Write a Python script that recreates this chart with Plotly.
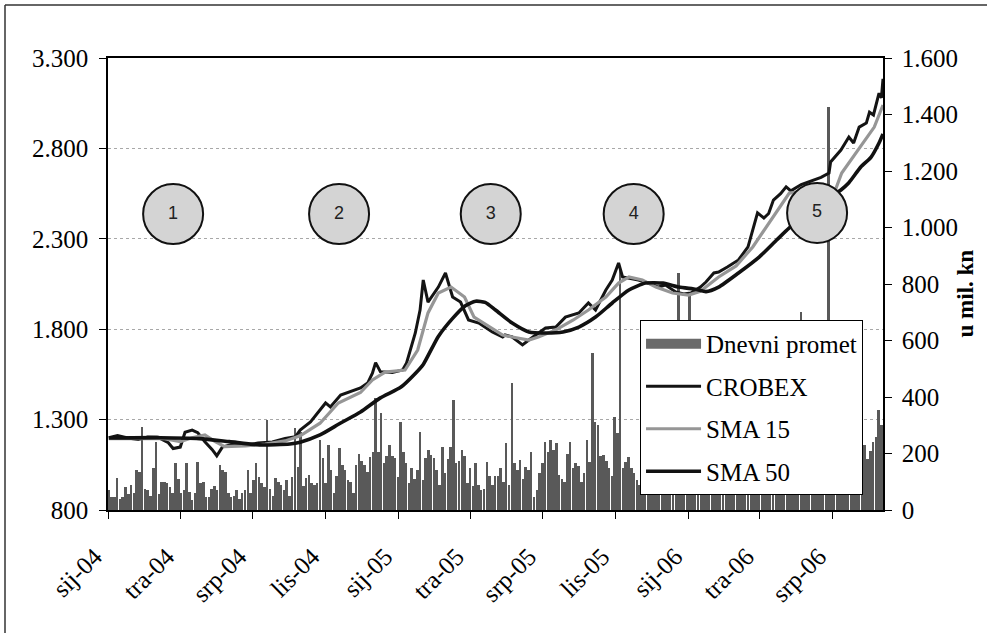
import plotly.graph_objects as go
import pandas as pd

# ---------------- data ----------------
crobex_dates = [
    "2004-01-02", "2004-01-13", "2004-01-26", "2004-02-08", "2004-02-20", "2004-03-04", "2004-03-17",
    "2004-03-23", "2004-04-01", "2004-04-07", "2004-04-16", "2004-04-23", "2004-05-02", "2004-05-11",
    "2004-05-17", "2004-05-24", "2004-06-05", "2004-06-22", "2004-07-08", "2004-07-26", "2004-08-11",
    "2004-08-24", "2004-08-30", "2004-09-12", "2004-10-01", "2004-10-07", "2004-10-20", "2004-11-01",
    "2004-11-14", "2004-11-23", "2004-11-29", "2004-12-03", "2004-12-09", "2004-12-24", "2005-01-06",
    "2005-01-11", "2005-01-22", "2005-01-28", "2005-02-01", "2005-02-07", "2005-02-20", "2005-03-01",
    "2005-03-10", "2005-03-20", "2005-03-30", "2005-04-12", "2005-04-29", "2005-05-12", "2005-05-15",
    "2005-05-24", "2005-06-06", "2005-06-14", "2005-06-26", "2005-07-05", "2005-07-18", "2005-07-30",
    "2005-08-16", "2005-08-28", "2005-09-06", "2005-09-19", "2005-09-27", "2005-10-05", "2005-10-10",
    "2005-10-18", "2005-10-30", "2005-11-12", "2005-11-24", "2005-12-03", "2005-12-16", "2005-12-26",
    "2006-01-04", "2006-01-16", "2006-01-23", "2006-02-02", "2006-02-08", "2006-02-19", "2006-03-05",
    "2006-03-17", "2006-03-23", "2006-03-29", "2006-04-06", "2006-04-12", "2006-04-18", "2006-04-27",
    "2006-05-04", "2006-05-10", "2006-05-23", "2006-06-04", "2006-06-17", "2006-06-27", "2006-06-29",
    "2006-07-12", "2006-07-22", "2006-07-28", "2006-08-04", "2006-08-13", "2006-08-17", "2006-08-22",
    "2006-08-29", "2006-09-01", "2006-09-03",
]
crobex_vals = [
    1200, 1212, 1198, 1190, 1204, 1202, 1172,
    1140, 1148, 1230, 1242, 1228, 1178, 1135,
    1100, 1148, 1162, 1160, 1170, 1176, 1195,
    1205, 1242, 1287, 1392, 1370, 1436, 1453,
    1475, 1502, 1557, 1615, 1565, 1560, 1574,
    1613, 1779, 1906, 2072, 1950, 2033, 2111,
    1978, 1950, 1851, 1834, 1785, 1757, 1768,
    1757, 1713, 1740, 1779, 1807, 1812, 1867,
    1890, 1945, 1906, 2017, 2072, 2166, 2089,
    2083, 2072, 2055, 2033, 2044, 2006, 1995,
    2000, 2033, 2061, 2111, 2116, 2144, 2183,
    2255, 2349, 2443, 2415, 2440, 2514, 2550,
    2587, 2565, 2600, 2620, 2640, 2664, 2725,
    2791, 2863, 2830, 2918, 2940, 3000, 2985,
    3106, 3080, 3185,
]

sma15_dates = [
    "2004-01-02", "2004-02-10", "2004-03-12", "2004-04-01", "2004-04-16", "2004-05-02", "2004-05-15",
    "2004-05-27", "2004-06-22", "2004-07-17", "2004-08-11", "2004-08-30", "2004-09-24", "2004-10-17",
    "2004-11-14", "2004-11-29", "2004-12-15", "2005-01-09", "2005-01-25", "2005-02-07", "2005-02-20",
    "2005-03-08", "2005-03-25", "2005-04-06", "2005-04-26", "2005-05-12", "2005-05-24", "2005-06-14",
    "2005-06-26", "2005-07-18", "2005-08-09", "2005-08-28", "2005-09-19", "2005-10-05", "2005-10-18",
    "2005-11-04", "2005-11-21", "2005-12-12", "2006-01-01", "2006-01-16", "2006-02-08", "2006-03-02",
    "2006-03-23", "2006-04-18", "2006-05-08", "2006-06-04", "2006-07-05", "2006-07-13", "2006-08-03",
    "2006-08-23", "2006-09-03",
]
sma15_vals = [
    1195, 1196, 1195, 1178, 1200, 1215, 1178,
    1150, 1155, 1165, 1182, 1210, 1280, 1392,
    1450, 1519, 1563, 1574, 1685, 1890, 2000,
    2033, 1978, 1867, 1812, 1768, 1757, 1740,
    1757, 1796, 1851, 1906, 1978, 2055, 2089,
    2072, 2033, 2000, 1989, 2010, 2089, 2150,
    2255, 2421, 2553, 2565, 2570, 2664, 2791,
    2918, 3040,
]

sma50_dates = [
    "2004-01-02", "2004-03-07", "2004-04-25", "2004-06-02", "2004-07-10", "2004-08-17", "2004-08-30",
    "2004-09-24", "2004-10-20", "2004-11-14", "2004-12-09", "2005-01-04", "2005-01-22", "2005-02-01",
    "2005-02-20", "2005-03-10", "2005-03-26", "2005-04-08", "2005-04-20", "2005-05-03", "2005-05-24",
    "2005-06-14", "2005-07-05", "2005-07-27", "2005-08-16", "2005-09-06", "2005-09-27", "2005-10-18",
    "2005-11-08", "2005-11-30", "2005-12-20", "2006-01-11", "2006-01-23", "2006-02-08", "2006-03-05",
    "2006-03-31", "2006-04-22", "2006-05-08", "2006-06-12", "2006-07-12", "2006-07-22", "2006-08-06",
    "2006-08-19", "2006-08-29", "2006-09-03",
]
sma50_vals = [
    1198, 1200, 1195, 1178, 1160, 1165, 1175,
    1215, 1281, 1342, 1420, 1480, 1555, 1605,
    1760, 1860, 1930, 1955, 1948, 1906, 1834,
    1785, 1779, 1785, 1812, 1867, 1945, 2017,
    2055, 2055, 2033, 2020, 2008, 2033, 2111,
    2199, 2293, 2360, 2480, 2570, 2610, 2697,
    2752, 2830, 2880,
]

# daily turnover (u mil. kn), one value every 3.5 days from 2 Jan 2004
volume_start = "2004-01-02"
volume_step_days = 3.5
volume_vals = [
    71, 45, 47, 112, 40, 45, 83, 55, 90, 60,
    142, 135, 295, 75, 70, 50, 148, 242, 55, 100,
    100, 95, 80, 60, 165, 110, 60, 70, 165, 65,
    35, 60, 171, 95, 100, 45, 45, 75, 85, 70,
    159, 142, 136, 60, 45, 50, 70, 40, 60, 72,
    142, 60, 106, 165, 118, 95, 80, 319, 75, 50,
    112, 100, 90, 70, 105, 50, 118, 289, 153, 277,
    85, 112, 124, 95, 90, 95, 248, 183, 95, 230,
    140, 60, 120, 218, 159, 140, 105, 100, 60, 159,
    200, 175, 159, 135, 189, 206, 395, 206, 342, 165,
    190, 230, 190, 185, 118, 313, 206, 165, 95, 150,
    110, 140, 277, 105, 183, 212, 195, 183, 140, 90,
    224, 130, 180, 224, 389, 165, 175, 212, 190, 95,
    150, 85, 165, 90, 70, 75, 171, 120, 90, 120,
    120, 147, 100, 236, 90, 448, 165, 140, 177, 110,
    153, 140, 206, 45, 70, 130, 165, 242, 206, 248,
    212, 236, 125, 110, 100, 200, 242, 150, 165, 155,
    100, 130, 248, 170, 555, 313, 301, 190, 195, 175,
    150, 120, 330, 271, 860, 150, 171, 189, 150, 130,
    105, 90, 85, 120, 95, 140, 110, 160, 90, 130,
    150, 100, 180, 120, 140, 839, 110, 160, 130, 770,
    120, 95, 150, 180, 110, 140, 200, 130, 90, 160,
    140, 110, 190, 150, 120, 170, 100, 140, 210, 160,
    130, 180, 150, 110, 200, 160, 140, 120, 180, 150,
    220, 130, 160, 190, 140, 110, 170, 230, 150, 701,
    180, 140, 200, 160, 120, 190, 240, 170, 150, 1427,
    210, 180, 150, 200, 160, 130, 190, 220, 170, 140,
    200, 160, 230, 180, 210, 240, 260, 354, 300,
]

# phase markers (numbered circles)
phase_labels = ["1", "2", "3", "4", "5"]
phase_dates = ["2004-03-23", "2004-10-18", "2005-04-27", "2005-10-24", "2006-06-12"]
phase_levels = [2437, 2437, 2437, 2437, 2443]

# axis ticks
x_tick_dates = ["2004-01-01", "2004-04-01", "2004-07-01", "2004-10-01", "2005-01-01", "2005-04-01",
                "2005-07-01", "2005-10-01", "2006-01-01", "2006-04-01", "2006-07-01"]
x_tick_labels = ["sij-04", "tra-04", "srp-04", "lis-04", "sij-05", "tra-05",
                 "srp-05", "lis-05", "sij-06", "tra-06", "srp-06"]
left_tick_vals = [800, 1300, 1800, 2300, 2800, 3300]
left_tick_labels = ["800", "1.300", "1.800", "2.300", "2.800", "3.300"]
right_tick_vals = [0, 200, 400, 600, 800, 1000, 1200, 1400, 1600]
right_tick_labels = ["0", "200", "400", "600", "800", "1.000", "1.200", "1.400", "1.600"]

# ---------------- figure ----------------
volume_dates = pd.to_datetime(volume_start) + pd.to_timedelta(
    [i * volume_step_days for i in range(len(volume_vals))], unit="D")
day_ms = 86400000

SERIF = "Liberation Serif, Times New Roman, serif"
fig = go.Figure()

fig.add_trace(go.Bar(
    x=volume_dates, y=volume_vals, name="Dnevni promet", showlegend=False,
    marker=dict(color="#595959", line=dict(width=0)),
    width=volume_step_days * day_ms * 0.9, yaxis="y",
))
# legend swatch for the turnover bars
fig.add_trace(go.Scatter(
    x=[None], y=[None], mode="lines", name="Dnevni promet",
    line=dict(color="#6a6a6a", width=16), yaxis="y2", legendgroup="g0",
))
fig.add_trace(go.Scatter(
    x=crobex_dates, y=crobex_vals, mode="lines", name="CROBEX",
    line=dict(color="#141414", width=3), yaxis="y2", legendgroup="g1",
))
fig.add_trace(go.Scatter(
    x=sma15_dates, y=sma15_vals, mode="lines", name="SMA 15",
    line=dict(color="#969696", width=3.2), yaxis="y2", legendgroup="g2",
))
fig.add_trace(go.Scatter(
    x=sma50_dates, y=sma50_vals, mode="lines", name="SMA 50",
    line=dict(color="#111111", width=3.6, shape="spline", smoothing=0.6), yaxis="y2", legendgroup="g3",
))
fig.add_trace(go.Scatter(
    x=phase_dates, y=phase_levels, mode="markers+text", text=phase_labels,
    textposition="middle center", showlegend=False, yaxis="y2", cliponaxis=False,
    marker=dict(size=60, color="#d4d4d4", line=dict(color="#111111", width=2)),
    textfont=dict(family="Liberation Sans, Arial, sans-serif", size=18, color="#222222"),
))

tickfont = dict(family=SERIF, size=25, color="black")
pad = "\u00a0\u00a0\u00a0"
fig.update_layout(
    width=987, height=633,
    margin=dict(l=108, r=104, t=58, b=123, autoexpand=False),
    paper_bgcolor="white", plot_bgcolor="white",
    font=dict(family=SERIF, color="black"),
    xaxis=dict(
        type="date", range=["2004-01-01", "2006-09-03"], automargin=False,
        tickmode="array", tickvals=x_tick_dates, ticktext=[t + pad for t in x_tick_labels],
        tickangle=-45, ticks="outside", ticklen=7, tickwidth=1.2, tickcolor="black",
        showline=True, linecolor="black", linewidth=1.5, mirror=True,
        showgrid=False, zeroline=False, tickfont=tickfont,
    ),
    yaxis=dict(
        range=[0, 1600], side="right", automargin=False,
        tickmode="array", tickvals=right_tick_vals, ticktext=right_tick_labels,
        ticks="outside", ticklen=7, tickwidth=1.2, tickcolor="black", ticklabelstandoff=5,
        showline=True, linecolor="black", linewidth=1.5,
        showgrid=False, zeroline=False, tickfont=tickfont,
    ),
    yaxis2=dict(
        range=[800, 3300], side="left", overlaying="y", automargin=False,
        tickmode="array", tickvals=left_tick_vals, ticktext=left_tick_labels,
        ticks="outside", ticklen=7, tickwidth=1.2, tickcolor="black", ticklabelstandoff=6,
        showline=True, linecolor="black", linewidth=1.5,
        showgrid=True, gridcolor="#a8a8a8", gridwidth=1, griddash="dot",
        zeroline=False, tickfont=tickfont,
    ),
    legend=dict(
        x=0.6865, y=0.4204, xanchor="left", yanchor="top",
        bgcolor="white", bordercolor="black", borderwidth=1,
        font=dict(family=SERIF, size=25, color="black"),
        itemwidth=55, tracegroupgap=7, traceorder="grouped",
    ),
    annotations=[dict(
        text="<b>u mil. kn</b>", x=1.107, y=0.479, xref="paper", yref="paper",
        textangle=-90, showarrow=False, xanchor="center", yanchor="middle",
        font=dict(family=SERIF, size=23, color="black"),
    )],
    shapes=[
        dict(type="line", xref="paper", yref="paper", x0=-0.1329, x1=1.2, y0=1.1173, y1=1.1173,
             line=dict(color="#333333", width=1.5)),
        dict(type="line", xref="paper", yref="paper", x0=-0.1329, x1=-0.1329, y0=-0.3, y1=1.1173,
             line=dict(color="#333333", width=1.5)),
    ],
    bargap=0,
)

fig.write_html("out.html", config={"displayModeBar": False},
               post_script="document.body.style.margin='0';")
